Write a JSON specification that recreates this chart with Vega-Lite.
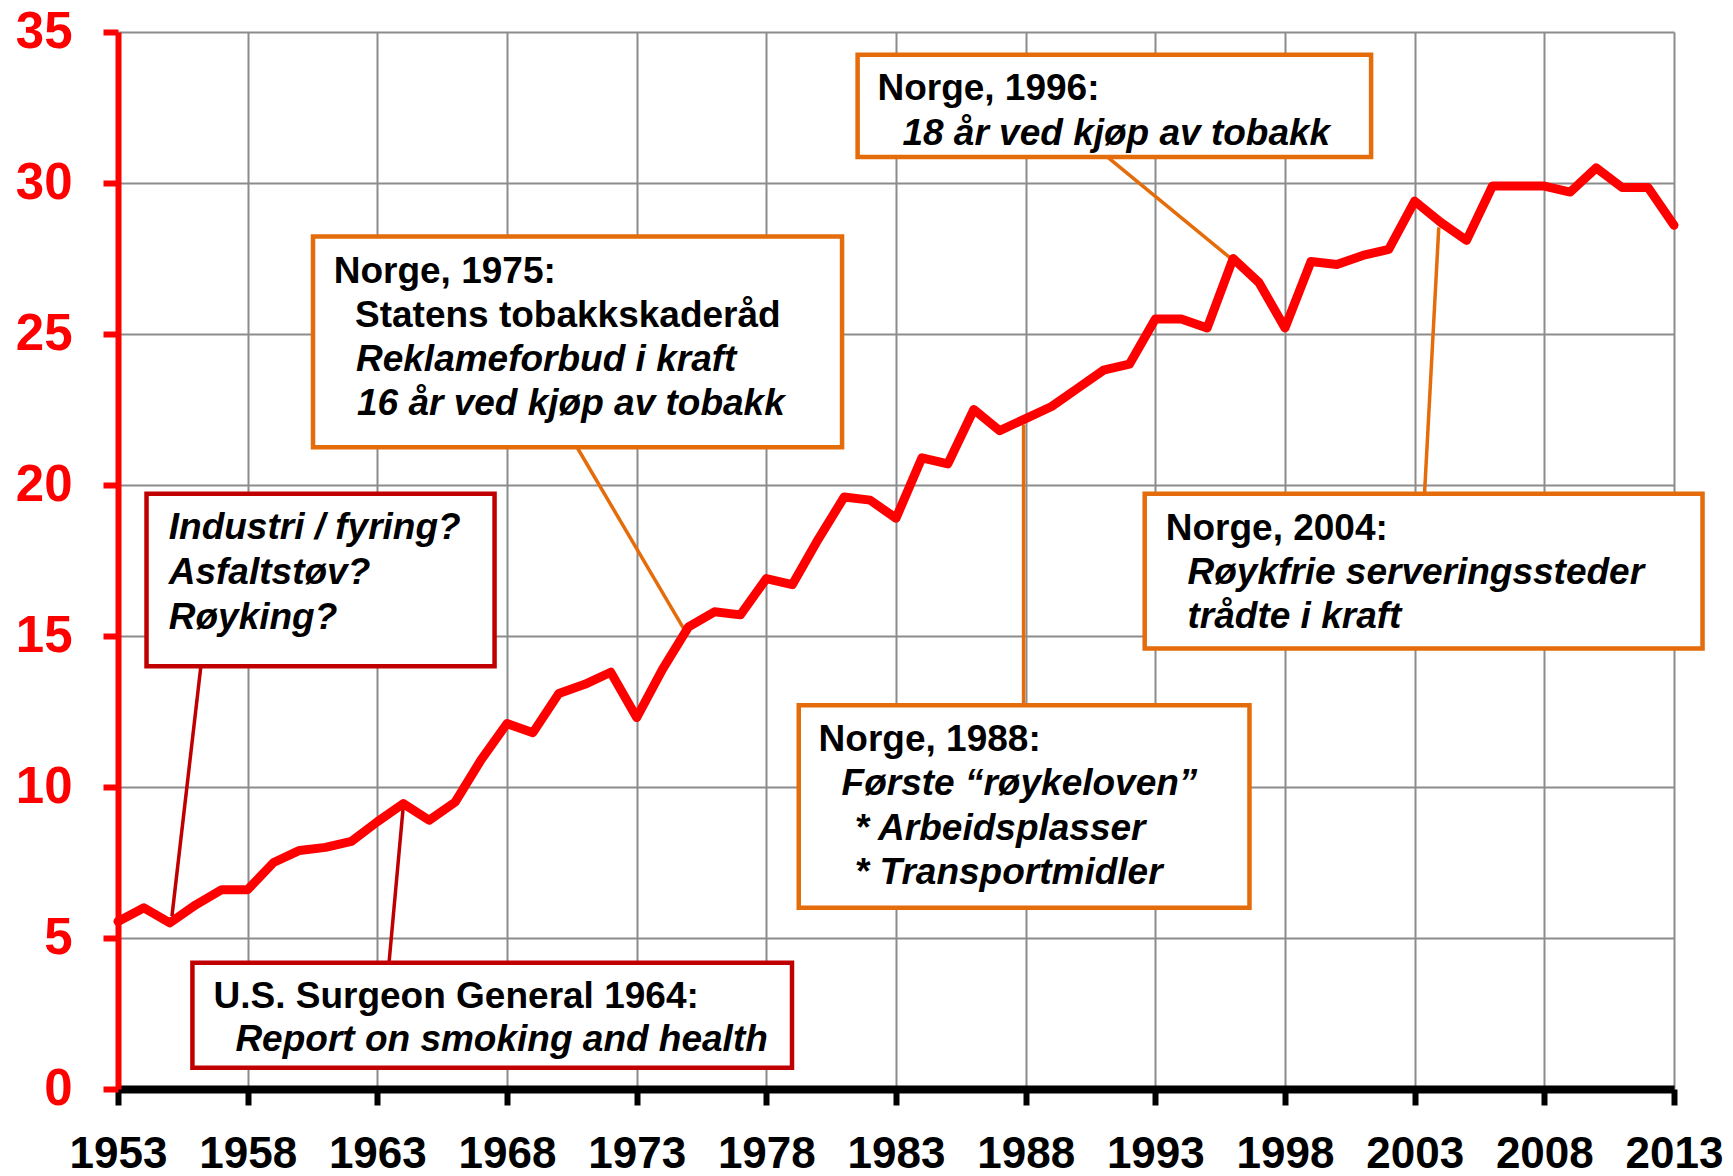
{
  "$schema": "https://vega.github.io/schema/vega-lite/v6.json",
  "autosize": {"type": "none"},
  "width": 1556,
  "height": 1057,
  "padding": {"left": 118, "top": 32, "right": 59, "bottom": 87},
  "background": "white",
  "config": {
    "view": {"stroke": null},
    "text": {"font": "Liberation Sans"}
  },
  "datasets": {
    "series": [
      {"year": 1953, "value": 5.55}, {"year": 1954, "value": 6.0}, {"year": 1955, "value": 5.5},
      {"year": 1956, "value": 6.1}, {"year": 1957, "value": 6.6}, {"year": 1958, "value": 6.6},
      {"year": 1959, "value": 7.5}, {"year": 1960, "value": 7.9}, {"year": 1961, "value": 8.0},
      {"year": 1962, "value": 8.2}, {"year": 1963, "value": 8.85}, {"year": 1964, "value": 9.45},
      {"year": 1965, "value": 8.9}, {"year": 1966, "value": 9.5}, {"year": 1967, "value": 10.9},
      {"year": 1968, "value": 12.1}, {"year": 1969, "value": 11.8}, {"year": 1970, "value": 13.1},
      {"year": 1971, "value": 13.4}, {"year": 1972, "value": 13.8}, {"year": 1973, "value": 12.3},
      {"year": 1974, "value": 13.9}, {"year": 1975, "value": 15.3}, {"year": 1976, "value": 15.8},
      {"year": 1977, "value": 15.7}, {"year": 1978, "value": 16.9}, {"year": 1979, "value": 16.7},
      {"year": 1980, "value": 18.2}, {"year": 1981, "value": 19.6}, {"year": 1982, "value": 19.5},
      {"year": 1983, "value": 18.9}, {"year": 1984, "value": 20.9}, {"year": 1985, "value": 20.7},
      {"year": 1986, "value": 22.5}, {"year": 1987, "value": 21.8}, {"year": 1988, "value": 22.2},
      {"year": 1989, "value": 22.6}, {"year": 1990, "value": 23.2}, {"year": 1991, "value": 23.8},
      {"year": 1992, "value": 24.0}, {"year": 1993, "value": 25.5}, {"year": 1994, "value": 25.5},
      {"year": 1995, "value": 25.2}, {"year": 1996, "value": 27.5}, {"year": 1997, "value": 26.7},
      {"year": 1998, "value": 25.2}, {"year": 1999, "value": 27.4}, {"year": 2000, "value": 27.3},
      {"year": 2001, "value": 27.6}, {"year": 2002, "value": 27.8}, {"year": 2003, "value": 29.4},
      {"year": 2004, "value": 28.7}, {"year": 2005, "value": 28.1}, {"year": 2006, "value": 29.9},
      {"year": 2007, "value": 29.9}, {"year": 2008, "value": 29.9}, {"year": 2009, "value": 29.7},
      {"year": 2010, "value": 30.5}, {"year": 2011, "value": 29.85}, {"year": 2012, "value": 29.85},
      {"year": 2013, "value": 28.6}
    ],
    "connectors": [
      {"x": 1956.2, "y": 14.03, "x2": 1955.08, "y2": 5.72, "kind": "red"},
      {"x": 1963.45, "y": 4.17, "x2": 1963.99, "y2": 9.27, "kind": "red"},
      {"x": 1970.7, "y": 21.25, "x2": 1974.83, "y2": 15.22, "kind": "orange"},
      {"x": 1991.17, "y": 30.85, "x2": 1995.9, "y2": 27.51, "kind": "orange"},
      {"x": 1987.92, "y": 12.71, "x2": 1987.92, "y2": 22.0, "kind": "orange"},
      {"x": 2003.38, "y": 19.71, "x2": 2003.93, "y2": 28.53, "kind": "orange"}
    ],
    "boxes": [
      {"x": 1960.52, "x2": 1980.92, "y": 28.23, "y2": 21.25, "kind": "orange"},
      {"x": 1981.52, "x2": 2001.32, "y": 34.25, "y2": 30.86, "kind": "orange"},
      {"x": 1954.1, "x2": 1967.52, "y": 19.71, "y2": 14.0, "kind": "red"},
      {"x": 1955.87, "x2": 1978.99, "y": 4.18, "y2": 0.705, "kind": "red"},
      {"x": 1979.25, "x2": 1996.63, "y": 12.71, "y2": 6.0, "kind": "orange"},
      {"x": 1992.59, "x2": 2014.1, "y": 19.71, "y2": 14.59, "kind": "orange"}
    ],
    "labels": [
      {"x": 1961.318, "y": 26.677, "text": "Norge, 1975:", "style": "normal"},
      {"x": 1962.139, "y": 25.221, "text": "Statens tobakkskaderåd", "style": "normal"},
      {"x": 1962.177, "y": 23.764, "text": "Reklameforbud i kraft", "style": "italic"},
      {"x": 1962.216, "y": 22.308, "text": "16 år ved kjøp av tobakk", "style": "italic"},
      {"x": 1982.283, "y": 32.756, "text": "Norge, 1996:", "style": "normal"},
      {"x": 1983.247, "y": 31.261, "text": "18 år ved kjøp av tobakk", "style": "italic"},
      {"x": 1954.957, "y": 18.204, "text": "Industri / fyring?", "style": "italic"},
      {"x": 1954.957, "y": 16.724, "text": "Asfaltstøv?", "style": "italic"},
      {"x": 1954.957, "y": 15.241, "text": "Røyking?", "style": "italic"},
      {"x": 1956.683, "y": 2.691, "text": "U.S. Surgeon General 1964:", "style": "normal"},
      {"x": 1957.527, "y": 1.258, "text": "Report on smoking and health", "style": "italic"},
      {"x": 1980.016, "y": 11.187, "text": "Norge, 1988:", "style": "normal"},
      {"x": 1980.903, "y": 9.731, "text": "Første “røykeloven”", "style": "italic"},
      {"x": 1981.412, "y": 8.258, "text": "* Arbeidsplasser", "style": "italic"},
      {"x": 1981.412, "y": 6.785, "text": "* Transportmidler", "style": "italic"},
      {"x": 1993.401, "y": 18.194, "text": "Norge, 2004:", "style": "normal"},
      {"x": 1994.241, "y": 16.724, "text": "Røykfrie serveringssteder", "style": "italic"},
      {"x": 1994.241, "y": 15.258, "text": "trådte i kraft", "style": "italic"}
    ]
  },
  "layer": [
    {
      "data": {"name": "series"},
      "mark": {"type": "line", "color": "#FF0000", "strokeWidth": 9, "strokeJoin": "round", "strokeCap": "round", "opacity": 0},
      "encoding": {
        "x": {
          "field": "year", "type": "quantitative",
          "scale": {"domain": [1953, 2013], "nice": false, "zero": false},
          "axis": {
            "title": null,
            "values": [1953, 1958, 1963, 1968, 1973, 1978, 1983, 1988, 1993, 1998, 2003, 2008, 2013],
            "format": "d",
            "grid": true, "gridColor": "#8c8c8c", "gridWidth": 2,
            "domainColor": "#000000", "domainWidth": 8,
            "tickColor": "#000000", "tickWidth": 6, "tickSize": 16,
            "labelFont": "Liberation Sans", "labelFontSize": 44, "labelFontWeight": "bold",
            "labelColor": "#000000", "labelPadding": 27, "labelFlush": false, "labelOverlap": false
          }
        },
        "y": {
          "field": "value", "type": "quantitative",
          "scale": {"domain": [0, 35], "nice": false},
          "axis": {
            "title": null,
            "values": [0, 5, 10, 15, 20, 25, 30, 35],
            "grid": true, "gridColor": "#8c8c8c", "gridWidth": 2,
            "domainColor": "#FF0000", "domainWidth": 6,
            "tickColor": "#FF0000", "tickWidth": 6, "tickSize": 15,
            "labelFont": "Liberation Sans", "labelFontSize": 51, "labelFontWeight": "bold",
            "labelColor": "#FF0000", "labelPadding": 31, "labelFlush": false, "labelOverlap": false
          }
        }
      }
    },
    {
      "data": {"name": "connectors"},
      "mark": {"type": "rule", "strokeWidth": 3.5},
      "encoding": {
        "x": {"field": "x", "type": "quantitative"},
        "y": {"field": "y", "type": "quantitative"},
        "x2": {"field": "x2"},
        "y2": {"field": "y2"},
        "color": {"field": "kind", "type": "nominal", "scale": {"domain": ["red", "orange"], "range": ["#C00000", "#E46C0A"]}, "legend": null}
      }
    },
    {
      "data": {"name": "boxes"},
      "mark": {"type": "rect", "fill": "white", "strokeWidth": 4.5},
      "encoding": {
        "x": {"field": "x", "type": "quantitative"},
        "y": {"field": "y", "type": "quantitative"},
        "x2": {"field": "x2"},
        "y2": {"field": "y2"},
        "stroke": {"field": "kind", "type": "nominal", "scale": {"domain": ["red", "orange"], "range": ["#C00000", "#E46C0A"]}, "legend": null}
      }
    },
    {
      "data": {"name": "series"},
      "mark": {"type": "line", "color": "#FF0000", "strokeWidth": 9, "strokeJoin": "round", "strokeCap": "round"},
      "encoding": {
        "x": {"field": "year", "type": "quantitative"},
        "y": {"field": "value", "type": "quantitative"}
      }
    },
    {
      "data": {"name": "labels"},
      "transform": [{"filter": "datum.style === 'normal'"}],
      "mark": {"type": "text", "font": "Liberation Sans", "fontSize": 37, "fontWeight": "bold", "align": "left", "baseline": "alphabetic", "color": "#000000"},
      "encoding": {
        "x": {"field": "x", "type": "quantitative"},
        "y": {"field": "y", "type": "quantitative"},
        "text": {"field": "text"}
      }
    },
    {
      "data": {"name": "labels"},
      "transform": [{"filter": "datum.style === 'italic'"}],
      "mark": {"type": "text", "font": "Liberation Sans", "fontSize": 37, "fontWeight": "bold", "fontStyle": "italic", "align": "left", "baseline": "alphabetic", "color": "#000000"},
      "encoding": {
        "x": {"field": "x", "type": "quantitative"},
        "y": {"field": "y", "type": "quantitative"},
        "text": {"field": "text"}
      }
    }
  ]
}
